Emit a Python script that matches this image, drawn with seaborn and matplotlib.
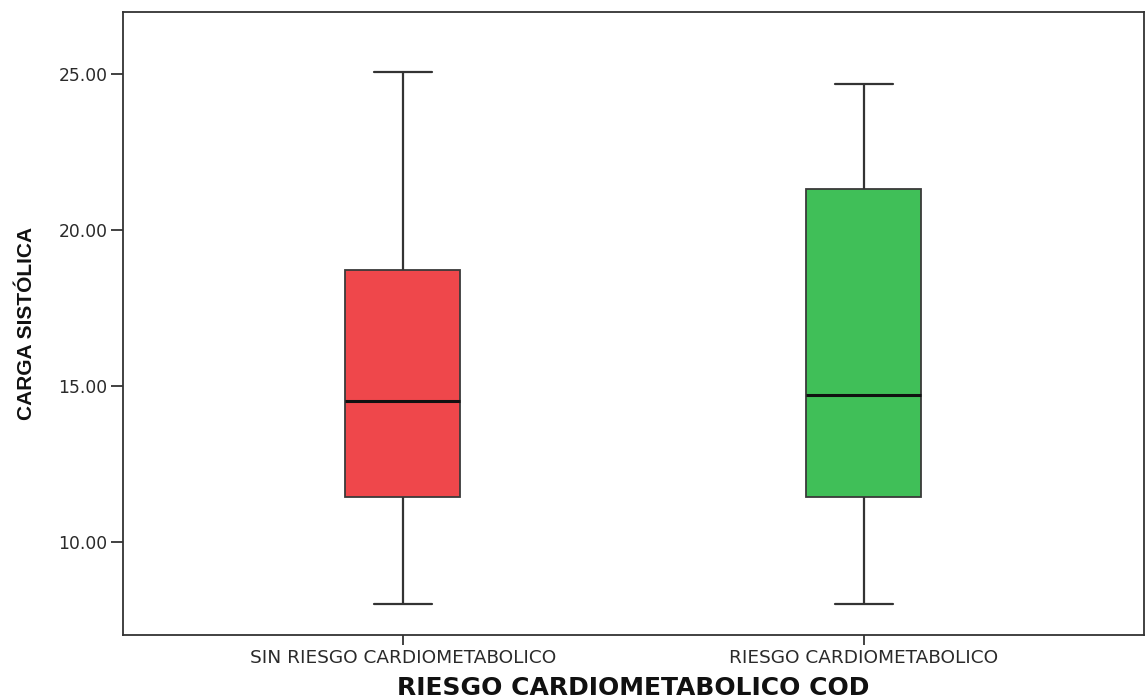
import matplotlib
matplotlib.use("Agg")
import matplotlib.pyplot as plt
import seaborn as sns
import pandas as pd

# Data: five-number summaries (min, Q1, median, Q3, max)
categories = ["SIN RIESGO CARDIOMETABOLICO", "RIESGO CARDIOMETABOLICO"]
sin_riesgo = [8.01, 11.44, 14.52, 18.72, 25.06]
con_riesgo = [8.01, 11.44, 14.71, 21.31, 24.68]
yticks = [10.0, 15.0, 20.0, 25.0]
colors = ["#EF474B", "#40BF58"]

df = pd.DataFrame({
    "grupo": [categories[0]] * len(sin_riesgo) + [categories[1]] * len(con_riesgo),
    "valor": sin_riesgo + con_riesgo,
})

sns.set_style("white")
plt.rcParams["font.family"] = ["DejaVu Sans"]

fig = plt.figure(figsize=(11.46, 7.0), dpi=100)
ax = fig.add_axes([0.1073, 0.0929, 0.8907, 0.8900])

sns.boxplot(
    data=df, x="grupo", y="valor", hue="grupo", order=categories,
    hue_order=categories, palette=colors, legend=False, width=0.25,
    whis=3.0, saturation=1, ax=ax,
    boxprops=dict(edgecolor="#3a3a3a", linewidth=1.3),
    whiskerprops=dict(color="#333333", linewidth=1.6),
    capprops=dict(color="#333333", linewidth=1.6),
    medianprops=dict(color="#111111", linewidth=2.2),
    showfliers=False,
)

ax.set_xlim(-0.607, 1.607)
ax.set_ylim(7.0, 27.0)
ax.set_yticks(yticks)
ax.set_yticklabels([f"{v:.2f}" for v in yticks])
for s in ax.spines.values():
    s.set_color("#333333")
    s.set_linewidth(1.3)
ax.tick_params(axis="both", direction="out", width=1.3, color="#333333",
               labelcolor="#2a2a2a", left=True, bottom=True)
ax.tick_params(axis="y", length=8.6, pad=2.5, labelsize=12.3)
ax.tick_params(axis="x", length=7, pad=3, labelsize=13.3)

ax.set_xlabel("RIESGO CARDIOMETABOLICO COD", fontsize=18, fontweight="bold",
              color="#111111", labelpad=6.5)
ax.set_ylabel("CARGA SISTÓLICA", fontsize=15, fontweight="bold", color="#111111",
              family=["Liberation Sans", "DejaVu Sans"], labelpad=16)

fig.savefig("out.png", dpi=100)
